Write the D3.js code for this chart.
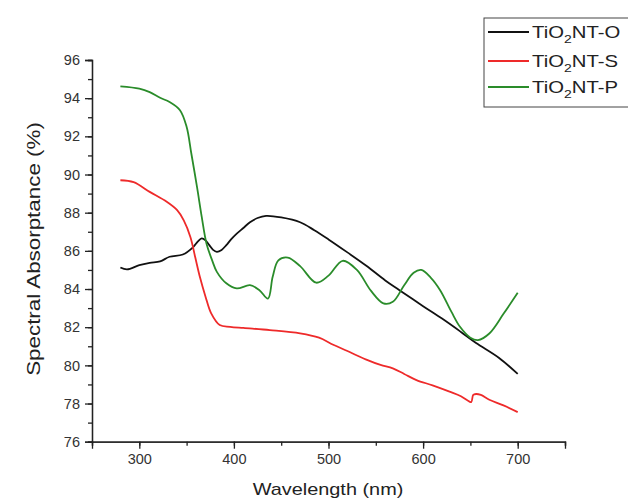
<!DOCTYPE html>
<html><head><meta charset="utf-8">
<script src="https://cdn.jsdelivr.net/npm/d3@7"></script>
<style>body{margin:0;background:#fff}svg{display:block}text{font-family:"Liberation Sans",Arial,sans-serif}</style>
</head><body><svg id="c" width="628" height="499"></svg>
<script>
const seriesNames = ["TiO2NT-O", "TiO2NT-S", "TiO2NT-P"];
const seriesColors = ["#111111", "#ee2a2a", "#2a8c2a"];
const xTicks = [300, 400, 500, 600, 700];
const yTicks = [76, 78, 80, 82, 84, 86, 88, 90, 92, 94, 96];

const wlO = [280,287,300,311,322,332,346,357,362,366,370,374,378,382,387,392,397,403,410,417,425,434,450,470,485,500,520,540,560,575,600,620,640,656,680,700];
const absO = [85.13,85.03,85.25,85.37,85.45,85.69,85.81,86.2,86.5,86.65,86.55,86.3,86.05,85.95,86.05,86.3,86.6,86.9,87.2,87.5,87.72,87.83,87.75,87.5,87.08,86.6,85.92,85.22,84.45,83.94,83.1,82.45,81.75,81.17,80.4,79.55];

const wlS = [280,294,311,329,340,347,354,359,364,370,376,385,396,410,438,470,490,505,520,540,555,568,580,593,610,628,640,649,651,653,656,661,670,685,700];
const absS = [89.7,89.6,89.09,88.57,88.13,87.6,86.73,85.69,84.64,83.6,82.72,82.11,82.02,81.96,81.85,81.68,81.45,81.08,80.75,80.3,80.02,79.84,79.55,79.23,78.95,78.62,78.38,78.1,78.08,78.45,78.5,78.45,78.2,77.9,77.55];

const wlP = [280,300,311,322,332,343,350,355,361,366,371,377,382,392,403,417,427,436,441,447,457,470,487,500,515,530,545,558,568,580,590,598,608,618,630,639,650,658,670,685,700];
const absP = [94.62,94.5,94.32,94.02,93.8,93.37,92.5,91.1,89.35,87.78,86.39,85.5,84.9,84.3,84.03,84.2,83.94,83.5,84.64,85.5,85.65,85.2,84.33,84.7,85.48,85.0,83.9,83.25,83.33,84.2,84.85,85.0,84.6,83.94,82.8,82.02,81.45,81.32,81.67,82.7,83.8];

const wl = [wlO, wlS, wlP];
const ab = [absO, absS, absP];

const svg = d3.select("#c");
const L = 92, R = 565, T = 60, B = 441.7;
const x = d3.scaleLinear().domain([250, 750]).range([L, R]);
const y = d3.scaleLinear().domain([76, 96]).range([B, T]);

// X axis
const xAx = svg.append("g").attr("transform", `translate(0,${B})`);
xAx.call(d3.axisBottom(x).tickValues(d3.range(250, 751, 50)).tickSize(4).tickFormat(""));
xAx.append("g").call(d3.axisBottom(x).tickValues(xTicks).tickSize(7).tickPadding(5).tickFormat(d3.format("d")));
xAx.selectAll(".domain").attr("stroke", "#222").attr("stroke-width", 1.3);
xAx.selectAll("line").attr("stroke", "#222").attr("stroke-width", 1.3);
xAx.selectAll("text").attr("font-size", 14.5).attr("fill", "#333").attr("font-family", "Liberation Sans, Arial, sans-serif");

// Y axis
const yAx = svg.append("g").attr("transform", `translate(${L},0)`);
yAx.call(d3.axisLeft(y).tickValues(d3.range(76, 96.1, 1)).tickSize(4).tickFormat(""));
yAx.append("g").call(d3.axisLeft(y).tickValues(yTicks).tickSize(7).tickPadding(5).tickFormat(d3.format("d")));
yAx.selectAll(".domain").attr("stroke", "#222").attr("stroke-width", 1.3);
yAx.selectAll("line").attr("stroke", "#222").attr("stroke-width", 1.3);
yAx.selectAll("text").attr("font-size", 14.5).attr("fill", "#333").attr("font-family", "Liberation Sans, Arial, sans-serif");

// axis titles (glyphs in the reference are horizontally widened)
svg.append("text").attr("transform", "translate(328,495) scale(1.17,1)").attr("text-anchor", "middle")
  .attr("font-size", 17).attr("fill", "#222").text("Wavelength (nm)");
svg.append("text").attr("transform", "translate(40,249) rotate(-90) scale(1.28,1)").attr("text-anchor", "middle")
  .attr("font-size", 17.5).attr("fill", "#222").text("Spectral Absorptance (%)");

// lines
const line = d3.line().curve(d3.curveCatmullRom.alpha(0.5)).x(d => x(d[0])).y(d => y(d[1]));
[0, 1, 2].forEach(i => {
  const pts = wl[i].map((w, j) => [w, ab[i][j]]);
  svg.append("path").datum(pts).attr("d", line).attr("fill", "none")
    .attr("stroke", seriesColors[i]).attr("stroke-width", 1.8).attr("stroke-linejoin", "round");
});

// legend
svg.append("rect").attr("x", 484).attr("y", 18).attr("width", 160).attr("height", 89)
  .attr("fill", "#fff").attr("stroke", "#444").attr("stroke-width", 1);
const rowsY = [32, 61, 87];
seriesNames.forEach((n, i) => {
  svg.append("line").attr("x1", 488).attr("x2", 529).attr("y1", rowsY[i]).attr("y2", rowsY[i])
    .attr("stroke", seriesColors[i]).attr("stroke-width", 2);
  const t = svg.append("text").attr("transform", `translate(532,${rowsY[i] + 6}) scale(1.27,1)`)
    .attr("font-size", 16).attr("fill", "#222");
  const parts = n.split("2");
  t.append("tspan").text(parts[0]);
  t.append("tspan").attr("font-size", 11).attr("dy", 5).text("2");
  t.append("tspan").attr("dy", -5).text(parts[1]);
});
</script></body></html>
